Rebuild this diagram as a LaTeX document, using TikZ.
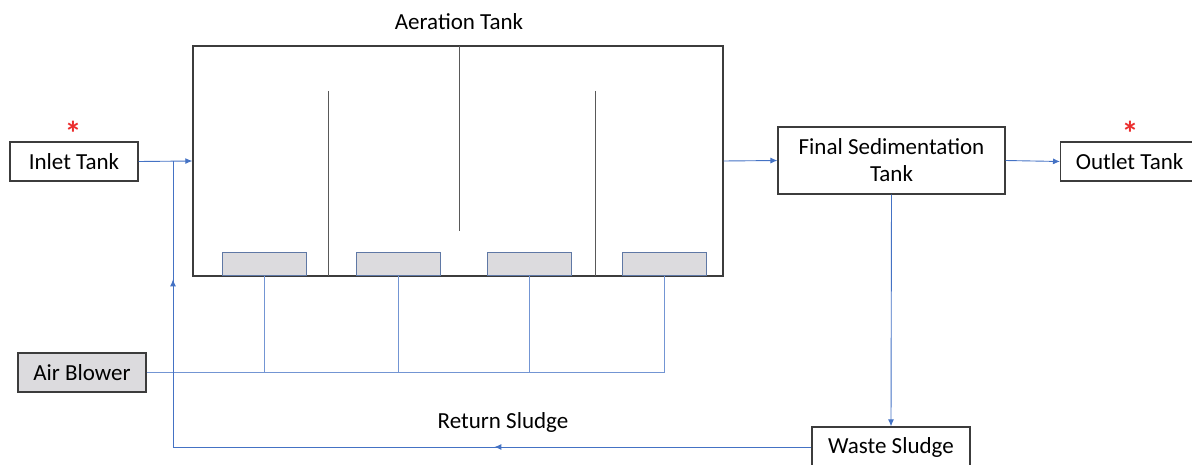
\documentclass[tikz,border=0pt]{standalone}
\usepackage{fontspec}
\setmainfont{Carlito}
\usetikzlibrary{arrows.meta,decorations.markings}

\definecolor{flowblue}{RGB}{68,114,196}
\definecolor{edgegrey}{RGB}{60,60,60}
\definecolor{padgrey}{RGB}{220,219,222}
\definecolor{starred}{RGB}{235,45,45}

\tikzset{
  unit/.style={draw=edgegrey, line width=1.2pt, minimum height=39pt, inner sep=0pt},
  flow/.style={draw=flowblue, line width=0.9pt, -{Latex[length=7pt,width=6pt]}},
  airline/.style={draw=flowblue!75, line width=0.9pt},
  baffle/.style={draw=edgegrey!85, line width=1pt},
  diffuser/.style={draw=flowblue!55!gray, fill=padgrey, line width=1pt,
    minimum width=84pt, minimum height=23pt, inner sep=0pt, anchor=south},
  star/.style={text=starred, inner sep=0pt, anchor=base, font=\fontsize{34}{34}\bfseries\selectfont},
  midarrow/.style={postaction={decorate}, decoration={markings,
    mark=at position 317pt with {\arrow{Latex[length=7pt,width=6pt]}},
    mark=at position 806pt with {\arrow{Latex[length=7pt,width=6pt]}}}}
}

\begin{document}
\begin{tikzpicture}[x=1pt,y=-1pt,font=\fontsize{23}{27}\selectfont]
                \useasboundingbox (0,0) rectangle (1192,465);

                % units
                \node[unit, minimum width=128pt] (inlet) at (74,161.5) {Inlet Tank};
                \node[unit, minimum width=530pt, minimum height=230pt, line width=1.4pt] (aer) at (458,161) {};
                \node (aertitle) at (459,22) {Aeration Tank};
                \node[unit, minimum width=227pt, minimum height=67pt, align=center] (fst) at (891.5,160.5) {Final Sedimentation\\Tank};
                \node[unit, minimum width=150pt, anchor=west] (outlet) at (1060,161.5) {\hspace*{-12pt}Outlet Tank};
                \node[unit, minimum width=128pt, fill=padgrey] (blower) at (82,372.5) {Air Blower};
                \node[unit, minimum width=158pt, minimum height=40pt] (ws) at (891,447) {Waste Sludge};
                \node (rslabel) at (503,422) {Return Sludge};
                \node[star] (instar) at (73,146) {*};
                \node[star] (outstar) at (1130,146) {*};

                % baffles
                \draw[baffle] (328,91) -- (328,276);
                \draw[baffle] (459,46) -- (459,231);
                \draw[baffle] (595,91) -- (595,276);

                % diffusers
                \node[diffuser] (d1) at (264,276) {};
                \node[diffuser] (d2) at (398,276) {};
                \node[diffuser] (d3) at (529,276) {};
                \node[diffuser] (d4) at (664,276) {};

                % air supply
                \draw[airline] (blower.east) -| (d4.south);
                \draw[airline] (d1.south) -- (d1.south |- blower.east);
                \draw[airline] (d2.south) -- (d2.south |- blower.east);
                \draw[airline] (d3.south) -- (d3.south |- blower.east);

                % flows
                \coordinate (jn) at (173,161);
                \draw[flow] (inlet.east) -- (aer.west);
                \draw[flow] (aer.east) -- (fst.west);
                \draw[flow] (fst.east) -- (outlet.west);
                \draw[flow] (fst.south) -- (ws.north);
                \draw[airline, draw=flowblue, midarrow] (ws.west) -| (jn);
            \end{tikzpicture}
\end{document}
